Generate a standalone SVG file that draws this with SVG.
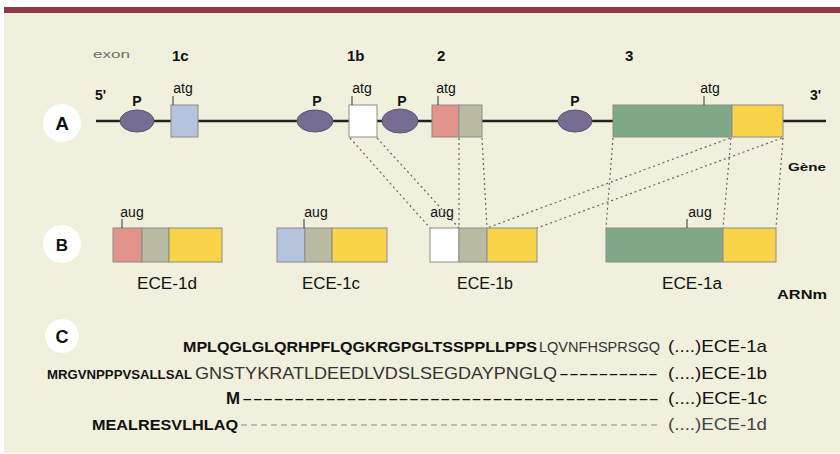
<svg xmlns="http://www.w3.org/2000/svg" width="840" height="454" viewBox="0 0 840 454">
<style>
.t{font-family:"Liberation Sans","DejaVu Sans",sans-serif;fill:#111}
.b{font-weight:bold}
.lbl{font-size:15px;font-weight:bold}
.sm{font-size:14px}
.seq{font-size:17px}
.ece{font-size:16px}
.box{stroke:#8c8c8c;stroke-width:1}
.prom{fill:#776d92;stroke:#5c5478;stroke-width:1}
.tick{stroke:#333;stroke-width:1}
.con{stroke:#666;stroke-width:1.2;stroke-dasharray:2 3;fill:none}
.circ{fill:#fff}
</style>
<rect x="0" y="0" width="840" height="454" fill="#fff"/>
<rect x="4" y="13" width="836" height="440" fill="#f0f0dc"/>
<rect x="4" y="7" width="836" height="6" fill="#8e3a46"/>

<g id="row-labels">
<circle class="circ" cx="62" cy="123" r="19"/>
<text class="t b" x="62" y="130" font-size="19" text-anchor="middle">A</text>
<circle class="circ" cx="62" cy="244" r="19"/>
<text class="t b" x="62" y="251" font-size="17" text-anchor="middle">B</text>
<circle class="circ" cx="62" cy="336" r="17"/>
<text class="t b" x="62" y="343" font-size="18" text-anchor="middle">C</text>
</g>

<g id="gene">
<line x1="96" y1="121" x2="826" y2="121" stroke="#222" stroke-width="2.5"/>
<text class="t" x="93" y="58" font-size="10" style="fill:#6e6e6e" textLength="37" lengthAdjust="spacingAndGlyphs">exon</text>
<text class="t lbl" x="172" y="61">1c</text>
<text class="t lbl" x="347" y="61">1b</text>
<text class="t lbl" x="437" y="61">2</text>
<text class="t lbl" x="625" y="61">3</text>
<text class="t b sm" x="95" y="100">5'</text>
<text class="t b sm" x="810" y="100">3'</text>
<text class="t b" x="788" y="171" font-size="11" textLength="38" lengthAdjust="spacingAndGlyphs">Gène</text>
</g>

<g id="promoters">
<ellipse class="prom" cx="137" cy="121" rx="17" ry="11"/>
<ellipse class="prom" cx="315" cy="121" rx="18" ry="11"/>
<ellipse class="prom" cx="400" cy="121" rx="18" ry="12"/>
<ellipse class="prom" cx="575" cy="121" rx="17" ry="11"/>
<text class="t b sm" x="137" y="106" text-anchor="middle">P</text>
<text class="t b sm" x="317" y="106" text-anchor="middle">P</text>
<text class="t b sm" x="402" y="106" text-anchor="middle">P</text>
<text class="t b sm" x="575" y="106" text-anchor="middle">P</text>
</g>

<g id="exon-1c">
<rect class="box" x="171" y="105" width="27" height="32" fill="#b6c3dc"/>
<line class="tick" x1="173" y1="96" x2="173" y2="105"/>
<text class="t sm" x="183" y="93" text-anchor="middle">atg</text>
</g>
<g id="exon-1b">
<rect class="box" x="349" y="105" width="28" height="32" fill="#fff"/>
<line class="tick" x1="352" y1="96" x2="352" y2="105"/>
<text class="t sm" x="362" y="93" text-anchor="middle">atg</text>
</g>
<g id="exon-2">
<rect class="box" x="432" y="105" width="27" height="32" fill="#e2948a"/>
<rect class="box" x="459" y="105" width="23" height="32" fill="#b9bca2"/>
<line class="tick" x1="438" y1="96" x2="438" y2="105"/>
<text class="t sm" x="446" y="93" text-anchor="middle">atg</text>
</g>
<g id="exon-3">
<rect class="box" x="613" y="105" width="119" height="32" fill="#80a98a"/>
<rect class="box" x="732" y="105" width="51" height="32" fill="#f9d448"/>
<line class="tick" x1="704" y1="96" x2="704" y2="105"/>
<text class="t sm" x="710" y="93" text-anchor="middle">atg</text>
</g>

<g id="connectors">
<line class="con" x1="350" y1="138" x2="430" y2="228"/>
<line class="con" x1="377" y1="138" x2="459" y2="228"/>
<line class="con" x1="459" y1="138" x2="459" y2="228"/>
<line class="con" x1="482" y1="138" x2="487" y2="228"/>
<line class="con" x1="730" y1="138" x2="487" y2="228"/>
<line class="con" x1="782" y1="138" x2="537" y2="228"/>
<line class="con" x1="613" y1="138" x2="606" y2="228"/>
<line class="con" x1="731" y1="138" x2="723" y2="228"/>
<line class="con" x1="783" y1="138" x2="776" y2="228"/>
</g>

<g id="ece-1d">
<rect class="box" x="113" y="228" width="29" height="34" fill="#e2948a"/>
<rect class="box" x="142" y="228" width="27" height="34" fill="#b9bca2"/>
<rect class="box" x="169" y="228" width="53" height="34" fill="#f9d448"/>
<line class="tick" x1="122" y1="219" x2="122" y2="228"/>
<text class="t sm" x="132" y="217" text-anchor="middle">aug</text>
<text class="t ece" x="137" y="289" textLength="60" lengthAdjust="spacingAndGlyphs">ECE-1d</text>
</g>
<g id="ece-1c">
<rect class="box" x="277" y="228" width="28" height="34" fill="#b6c3dc"/>
<rect class="box" x="305" y="228" width="27" height="34" fill="#b9bca2"/>
<rect class="box" x="332" y="228" width="55" height="34" fill="#f9d448"/>
<line class="tick" x1="304" y1="219" x2="304" y2="228"/>
<text class="t sm" x="316" y="217" text-anchor="middle">aug</text>
<text class="t ece" x="302" y="289" textLength="58" lengthAdjust="spacingAndGlyphs">ECE-1c</text>
</g>
<g id="ece-1b">
<rect class="box" x="430" y="228" width="29" height="34" fill="#fff"/>
<rect class="box" x="459" y="228" width="28" height="34" fill="#b9bca2"/>
<rect class="box" x="487" y="228" width="50" height="34" fill="#f9d448"/>
<text class="t sm" x="442" y="217" text-anchor="middle">aug</text>
<text class="t ece" x="457" y="289" textLength="56" lengthAdjust="spacingAndGlyphs">ECE-1b</text>
</g>
<g id="ece-1a">
<rect class="box" x="606" y="228" width="117" height="34" fill="#80a98a"/>
<rect class="box" x="723" y="228" width="53" height="34" fill="#f9d448"/>
<line class="tick" x1="687" y1="219" x2="687" y2="228"/>
<text class="t sm" x="700" y="217" text-anchor="middle">aug</text>
<text class="t ece" x="662" y="289" textLength="60" lengthAdjust="spacingAndGlyphs">ECE-1a</text>
<text class="t b" x="777" y="299" font-size="13" textLength="50" lengthAdjust="spacingAndGlyphs">ARNm</text>
</g>

<g id="seq-1a">
<text class="t b" x="183" y="352" font-size="15.5" textLength="354" lengthAdjust="spacingAndGlyphs">MPLQGLGLQRHPFLQGKRGPGLTSSPPLLPPS</text>
<text class="t" x="539" y="352" font-size="15" textLength="121" lengthAdjust="spacingAndGlyphs" style="fill:#333">LQVNFHSPRSGQ</text>
<text class="t seq" x="668" y="352" textLength="99" lengthAdjust="spacingAndGlyphs">(....)ECE-1a</text>
</g>
<g id="seq-1b">
<text class="t b" x="47" y="379" font-size="13.5" textLength="145" lengthAdjust="spacingAndGlyphs">MRGVNPPPVSALLSAL</text>
<text class="t seq" x="195" y="379" textLength="362" lengthAdjust="spacingAndGlyphs" style="fill:#333">GNSTYKRATLDEEDLVDSLSEGDAYPNGLQ</text>
<text class="t seq" x="559" y="379" textLength="99" lengthAdjust="spacingAndGlyphs">----------</text>
<text class="t seq" x="668" y="379" textLength="99" lengthAdjust="spacingAndGlyphs">(....)ECE-1b</text>
</g>
<g id="seq-1c">
<text class="t b seq" x="226" y="404" textLength="14" lengthAdjust="spacingAndGlyphs">M</text>
<text class="t seq" x="242" y="404" textLength="417" lengthAdjust="spacingAndGlyphs">----------------------------------------</text>
<text class="t seq" x="668" y="404" textLength="99" lengthAdjust="spacingAndGlyphs">(....)ECE-1c</text>
</g>
<g id="seq-1d">
<text class="t b" x="92" y="430" font-size="15.5" textLength="146" lengthAdjust="spacingAndGlyphs">MEALRESVLHLAQ</text>
<line x1="241" y1="425" x2="660" y2="425" stroke="#888" stroke-width="1" stroke-dasharray="6 4"/>
<text class="t seq" x="668" y="430" textLength="99" lengthAdjust="spacingAndGlyphs" style="fill:#444">(....)ECE-1d</text>
</g>
</svg>
